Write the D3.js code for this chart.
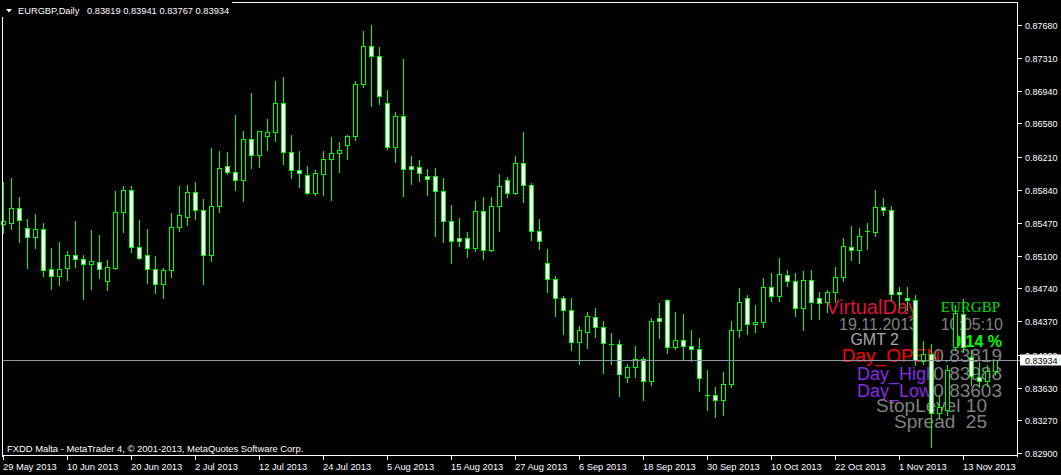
<!DOCTYPE html>
<html><head><meta charset="utf-8">
<script src="https://cdn.jsdelivr.net/npm/d3@7"></script>
<style>html,body{margin:0;padding:0;background:#000;overflow:hidden}svg{display:block}</style>
</head><body><svg id="c" width="1061" height="475"></svg>
<script>
// ---- data (EURGBP daily, 29 May 2013 .. 19 Nov 2013) ----
const opens = [0.85458,0.85472,0.85633,0.85410,0.85316,0.85398,0.84952,0.84873,0.84970,0.85108,
0.85063,0.85008,0.85030,0.84818,0.84970,0.85588,0.85834,0.85197,0.85108,0.84952,
0.84791,0.84940,0.85421,0.85532,0.85812,0.85610,0.85108,0.85655,0.86102,0.86035,
0.85946,0.86404,0.86232,0.86437,0.86481,0.86806,0.86258,0.86057,0.86002,0.85807,
0.86019,0.86180,0.86247,0.86344,0.86437,0.87018,0.87442,0.87330,0.86806,0.86314,
0.86660,0.86102,0.86091,0.85990,0.85990,0.85823,0.85488,0.85298,0.85298,0.85186,
0.85599,0.85164,0.85655,0.85946,0.85800,0.86136,0.85890,0.85376,0.85019,0.84840,
0.84628,0.84494,0.84136,0.84248,0.84416,0.84304,0.84114,0.84114,0.83746,0.83857,
0.83946,0.83701,0.84404,0.84605,0.84081,0.84158,0.84092,0.84058,0.83545,0.83545,
0.83490,0.83668,0.84270,0.84628,0.84341,0.84365,0.84753,0.84650,0.84884,0.84818,
0.84516,0.84830,0.84628,0.84583,0.84695,0.84862,0.85197,0.85164,0.85376,0.85365,
0.85644,0.85610,0.84695,0.84628,0.84605,0.83928,0.84003,0.83343,0.83380,0.84083,
0.84451,0.83972,0.83746,0.83704,0.83819];
const highs = [0.85927,0.85971,0.85759,0.85513,0.85569,0.85465,0.85189,0.85256,0.85156,0.85491,
0.85111,0.85390,0.85335,0.85055,0.85826,0.85882,0.85882,0.85502,0.85402,0.85095,
0.84963,0.85580,0.85882,0.85893,0.85923,0.85733,0.86303,0.86273,0.86262,0.86675,
0.86496,0.86921,0.86493,0.86630,0.87055,0.87099,0.86452,0.86273,0.86105,0.86060,
0.86273,0.86429,0.86373,0.86452,0.87055,0.87613,0.87680,0.87434,0.86954,0.86708,
0.87300,0.86217,0.86172,0.86072,0.86079,0.85968,0.85666,0.85521,0.85365,0.85711,
0.85756,0.85756,0.86013,0.85979,0.86214,0.86485,0.85912,0.85510,0.85175,0.84873,
0.84650,0.84628,0.84315,0.84471,0.84516,0.84371,0.84237,0.84158,0.83891,0.84092,
0.83969,0.84404,0.84572,0.84617,0.84471,0.84449,0.84270,0.84181,0.83827,0.83634,
0.83801,0.84371,0.84740,0.84661,0.84553,0.84851,0.84907,0.85075,0.84940,0.84907,
0.84929,0.84940,0.84695,0.84717,0.84974,0.85298,0.85435,0.85410,0.85465,0.85834,
0.85745,0.85655,0.84753,0.84753,0.84665,0.84153,0.84114,0.83548,0.83883,0.84553,
0.84623,0.84050,0.83916,0.83883,0.83941];
const lows = [0.85357,0.85402,0.85260,0.84970,0.85193,0.84880,0.84735,0.84780,0.84836,0.84981,
0.84623,0.84735,0.84858,0.84724,0.84959,0.85372,0.85148,0.85063,0.84802,0.84690,
0.84634,0.84869,0.85383,0.85450,0.85513,0.84791,0.85048,0.85595,0.86019,0.85841,
0.85718,0.86086,0.86097,0.86287,0.86388,0.86131,0.85975,0.85874,0.85796,0.85784,
0.85784,0.85730,0.86042,0.86187,0.86399,0.86991,0.86779,0.86801,0.86292,0.86153,
0.85773,0.85908,0.85941,0.85784,0.85324,0.85260,0.85026,0.85215,0.85091,0.85153,
0.85063,0.85153,0.85376,0.85756,0.85789,0.85698,0.85276,0.85175,0.84695,0.84433,
0.84232,0.84054,0.83897,0.84076,0.84199,0.83797,0.83897,0.83540,0.83690,0.83746,
0.83495,0.83656,0.84188,0.84014,0.84058,0.83946,0.83924,0.83589,0.83384,0.83297,
0.83320,0.83634,0.84201,0.84226,0.84251,0.84304,0.84595,0.84595,0.84768,0.84427,
0.84270,0.84393,0.84393,0.84471,0.84583,0.84818,0.85052,0.85019,0.85175,0.85324,
0.85555,0.84605,0.84528,0.84498,0.83883,0.83894,0.82970,0.83291,0.83325,0.84050,
0.84028,0.83662,0.83639,0.83651,0.83767];
const closes = [0.85491,0.85633,0.85506,0.85316,0.85398,0.84947,0.84873,0.84952,0.85108,0.85063,
0.85008,0.85041,0.84952,0.84975,0.85588,0.85834,0.85197,0.85075,0.84952,0.84784,
0.84940,0.85421,0.85555,0.85812,0.85610,0.85108,0.85655,0.86079,0.86035,0.85946,
0.86404,0.86225,0.86493,0.86481,0.86806,0.86258,0.86057,0.86024,0.85807,0.86024,
0.86180,0.86247,0.86280,0.86437,0.87018,0.87442,0.87330,0.86884,0.86314,0.86660,
0.86068,0.86068,0.86024,0.85957,0.85823,0.85488,0.85264,0.85264,0.85186,0.85599,
0.85164,0.85655,0.85879,0.85800,0.86136,0.85888,0.85376,0.85264,0.84840,0.84628,
0.84494,0.84136,0.84270,0.84427,0.84304,0.84125,0.84114,0.83779,0.83857,0.83946,
0.83701,0.84371,0.84371,0.84081,0.84158,0.84092,0.84058,0.83734,0.83545,0.83490,
0.83668,0.84270,0.84583,0.84341,0.84365,0.84753,0.84650,0.84896,0.84818,0.84516,
0.84830,0.84583,0.84572,0.84695,0.84862,0.85208,0.85164,0.85320,0.85376,0.85644,
0.85610,0.84673,0.84673,0.84605,0.83935,0.84003,0.83343,0.83417,0.83827,0.84460,
0.84083,0.83756,0.83708,0.83819,0.83934];
const timeLabels = ["29 May 2013","10 Jun 2013","20 Jun 2013","2 Jul 2013","12 Jul 2013","24 Jul 2013",
"5 Aug 2013","15 Aug 2013","27 Aug 2013","6 Sep 2013","18 Sep 2013","30 Sep 2013","10 Oct 2013",
"22 Oct 2013","1 Nov 2013","13 Nov 2013"];
const barsPerLabel = 8;
const priceTicks = [0.87680,0.87310,0.86940,0.86580,0.86210,0.85840,0.85470,0.85100,0.84740,0.84370,0.84000,0.83630,0.83270,0.82900];
const bidPrice = 0.83934;
const symbolTitle = "EURGBP,Daily";
const titleOHLC = ["0.83819","0.83941","0.83767","0.83934"];
const footerText = "FXDD Malta - MetaTrader 4, \u00A9 2001-2013, MetaQuotes Software Corp.";
const panelLeft = ["VirtualDay","19.11.2013","GMT 2","Day_OPEN","Day_High","Day_Low"];
const panelRight = ["EURGBP","10:05:10","0.14 %","0.83819","0.83988","0.83603"];
const panelBottom = ["StopLevel 10","Spread  25"];

// ---- drawing ----
const W = 1061, H = 475;
const plotL = 2, plotR = 1018, plotB = 456;
const svg = d3.select("#c");
svg.append("rect").attr("width", W).attr("height", H).attr("fill", "#000");

const n = opens.length;
const x = d3.scaleLinear().domain([0, n - 1]).range([3.3, 3.3 + 8 * (n - 1)]);
const y = d3.scaleLinear().domain([0.828665, 0.879592]).range([plotB, 0]);

const small = "'Liberation Sans', Arial, sans-serif";
const LIME = "#00ff00";

// overlay text panel (drawn beneath the candles)
const panel = svg.append("g").attr("font-family", small);
const leftStyles = [
  {x: 918, y: 314, size: 20, fill: "#dc143c"},
  {x: 918, y: 330, size: 16, fill: "#808080"},
  {x: 899, y: 345, size: 16, fill: "#a9a9a9"},
  {x: 940, y: 362, size: 19, fill: "#ff0000"},
  {x: 936, y: 380, size: 18, fill: "#8a2be2"},
  {x: 932, y: 397, size: 18, fill: "#8a2be2"}
];
const rightStyles = [
  {x: 1000, y: 312, size: 15, fill: "#00e000", family: "'Liberation Serif', 'Times New Roman', serif"},
  {x: 1003, y: 330, size: 16, fill: "#808080"},
  {x: 1002, y: 346.5, size: 16, fill: "#00ff00", weight: "bold"},
  {x: 1002, y: 362, size: 19, fill: "#808080"},
  {x: 1002, y: 380, size: 19, fill: "#808080"},
  {x: 1002, y: 397, size: 19, fill: "#808080"}
];
const bottomStyles = [
  {x: 987, y: 412, size: 19, fill: "#808080"},
  {x: 987, y: 428, size: 19, fill: "#808080"}
];
function drawPanel(texts, styles) {
  panel.selectAll(null).data(texts).enter().append("text")
    .attr("x", (d, i) => styles[i].x).attr("y", (d, i) => styles[i].y)
    .attr("text-anchor", "end")
    .attr("font-size", (d, i) => styles[i].size)
    .attr("font-family", (d, i) => styles[i].family || null)
    .attr("font-weight", (d, i) => styles[i].weight || null)
    .attr("fill", (d, i) => styles[i].fill)
    .attr("xml:space", "preserve")
    .style("white-space", "pre")
    .text(d => d);
}
drawPanel(panelLeft, leftStyles);
drawPanel(panelRight, rightStyles);
drawPanel(panelBottom, bottomStyles);

// candles
const cg = svg.append("g").attr("shape-rendering", "crispEdges");
const idx = d3.range(n);
const cx = i => Math.round(x(i)) + 0.5;
cg.selectAll("line.wick").data(idx).enter().append("line")
  .attr("x1", cx).attr("x2", cx)
  .attr("y1", i => Math.round(y(highs[i])))
  .attr("y2", i => Math.round(y(lows[i])) + 1)
  .attr("stroke", LIME).attr("stroke-width", 1);
idx.forEach(i => {
  const top = Math.round(y(Math.max(opens[i], closes[i])));
  const bot = Math.round(y(Math.min(opens[i], closes[i])));
  const c = cx(i);
  if (bot - top < 1) {
    cg.append("line").attr("x1", c - 2.5).attr("x2", c + 2.5)
      .attr("y1", top + 0.5).attr("y2", top + 0.5)
      .attr("stroke", LIME).attr("stroke-width", 1);
  } else {
    cg.append("rect").attr("x", c - 2).attr("y", top + 0.5)
      .attr("width", 4).attr("height", bot - top)
      .attr("fill", closes[i] < opens[i] ? "#ffffff" : "#000000")
      .attr("stroke", LIME).attr("stroke-width", 1);
  }
});

// bid line
const by = Math.round(y(bidPrice)) + 0.5;
svg.append("line").attr("x1", plotL).attr("x2", plotR + 3).attr("y1", by).attr("y2", by)
  .attr("stroke", "#8a96a3").attr("stroke-width", 1).attr("shape-rendering", "crispEdges");

// frame
const frame = svg.append("g").attr("stroke", "#fff").attr("stroke-width", 1).attr("shape-rendering", "crispEdges");
frame.append("line").attr("x1", plotL + 0.5).attr("x2", plotL + 0.5).attr("y1", 2).attr("y2", plotB + 0.5);
frame.append("line").attr("x1", plotR - 0.5).attr("x2", plotR - 0.5).attr("y1", 2).attr("y2", plotB + 0.5);
frame.append("line").attr("x1", plotL).attr("x2", plotR).attr("y1", 2.5).attr("y2", 2.5);
frame.append("line").attr("x1", plotL).attr("x2", plotR).attr("y1", plotB - 0.5).attr("y2", plotB - 0.5);

// price axis
const pa = svg.append("g").attr("font-family", small).attr("font-size", 9).attr("fill", "#fff");
pa.selectAll("line").data(priceTicks).enter().append("line")
  .attr("x1", plotR).attr("x2", plotR + 4)
  .attr("y1", d => Math.round(y(d)) + 0.5).attr("y2", d => Math.round(y(d)) + 0.5)
  .attr("stroke", "#fff").attr("shape-rendering", "crispEdges");
pa.selectAll("text").data(priceTicks).enter().append("text")
  .attr("x", 1025).attr("y", d => Math.round(y(d)) + 3.5)
  .text(d => d3.format(".5f")(d));
// bid label
svg.append("rect").attr("x", 1020).attr("y", by - 6).attr("width", 41).attr("height", 11).attr("fill", "#fff");
svg.append("text").attr("x", 1025).attr("y", by + 3.5).attr("font-family", small).attr("font-size", 9)
  .attr("fill", "#000").text(d3.format(".5f")(bidPrice));

// time axis
const ta = svg.append("g").attr("font-family", small).attr("font-size", 9.3).attr("fill", "#fff");
ta.selectAll("line").data(timeLabels).enter().append("line")
  .attr("x1", (d, k) => cx(k * barsPerLabel)).attr("x2", (d, k) => cx(k * barsPerLabel))
  .attr("y1", plotB).attr("y2", plotB + 4)
  .attr("stroke", "#fff").attr("shape-rendering", "crispEdges");
ta.selectAll("text").data(timeLabels).enter().append("text")
  .attr("x", (d, k) => Math.round(x(k * barsPerLabel)))
  .attr("y", 469.5).text(d => d);

// title
const tg = svg.append("g").attr("font-family", small).attr("font-size", 9.3).attr("fill", "#fff");
tg.append("rect").attr("x", 2).attr("y", 2).attr("width", 230).attr("height", 15).attr("fill", "#000");
tg.append("path").attr("d", "M6,9L12,9L9,12.5Z").attr("fill", "#fff");
tg.append("text").attr("x", 18).attr("y", 14).text(symbolTitle);
tg.append("text").attr("x", 87).attr("y", 14).text(titleOHLC.join(" "));

// footer
svg.append("text").attr("x", 7).attr("y", 452).attr("font-family", small).attr("font-size", 9.4)
  .attr("fill", "#fff").text(footerText);
</script>
</body></html>
